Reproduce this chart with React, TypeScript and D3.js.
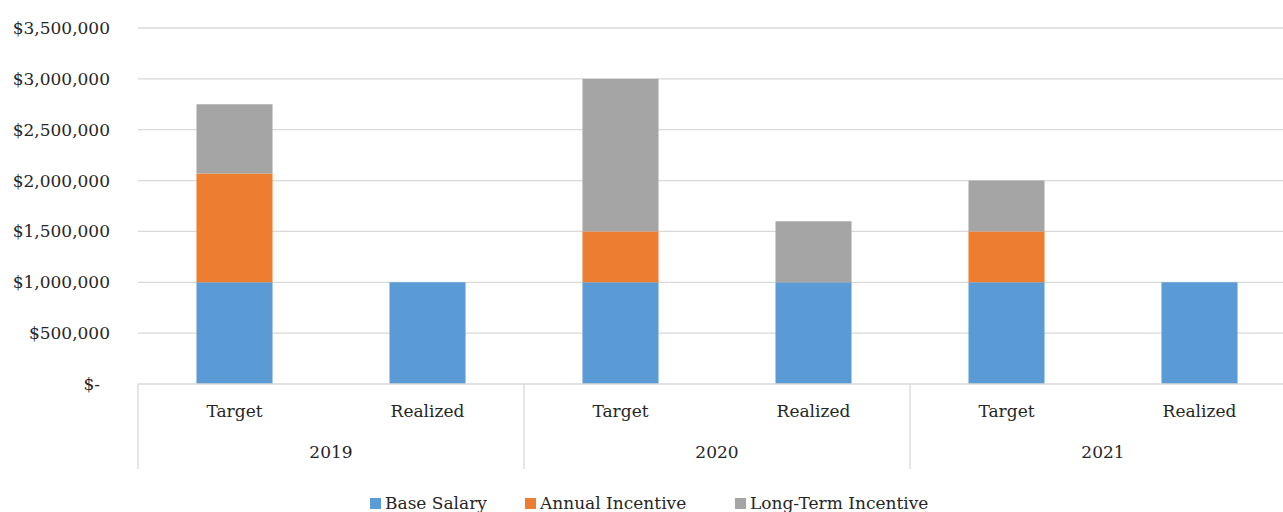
import React, { useEffect, useRef } from 'react';
import * as d3 from 'd3';

const years = ['2019', '2020', '2021'];
const kinds = ['Target', 'Realized'];
const seriesNames = ['Base Salary', 'Annual Incentive', 'Long-Term Incentive'];
const seriesColors = ['#5B9BD5', '#ED7D31', '#A5A5A5'];
// one value per (year, kind): 2019 Target, 2019 Realized, 2020 Target, ...
const baseSalary = [1000000, 1000000, 1000000, 1000000, 1000000, 1000000];
const annualIncentive = [1070000, 0, 500000, 0, 500000, 0];
const longTermIncentive = [680000, 0, 1500000, 600000, 500000, 0];
const yTicks = [0, 500000, 1000000, 1500000, 2000000, 2500000, 3000000, 3500000];

const W = 1283;
const H = 512;
const FONT = '"DejaVu Serif", serif';
const TEXT = '#262626';

export default function App() {
  const ref = useRef<SVGSVGElement>(null);

  useEffect(() => {
    const svg = d3.select(ref.current);
    svg.selectAll('*').remove();

    const x0 = d3.scaleBand().domain(years).range([138, 1296]).padding(0);
    const x1 = d3.scaleBand().domain(kinds).range([0, x0.bandwidth()])
      .paddingInner(0.606).paddingOuter(0.303);
    const y = d3.scaleLinear().domain([0, 3500000]).range([384, 28]);

    // gridlines
    svg.append('g').selectAll('line').data(yTicks.filter(d => d > 0)).join('line')
      .attr('x1', 138).attr('x2', W)
      .attr('y1', d => y(d)).attr('y2', d => y(d))
      .attr('stroke', '#D9D9D9').attr('stroke-width', 1.3);

    // y labels
    const fmt = d3.format(',');
    svg.append('g').selectAll('text').data(yTicks).join('text')
      .attr('x', d => d === 0 ? 100 : 110)
      .attr('y', d => y(d))
      .attr('dy', '0.35em')
      .attr('text-anchor', 'end')
      .attr('font-family', FONT).attr('font-size', 17).attr('fill', TEXT)
      .text(d => d === 0 ? '$-' : '$' + fmt(d));

    // stacked bars
    const rows = years.flatMap((yr, i) => kinds.map((k, j) => {
      const idx = i * 2 + j;
      return { year: yr, kind: k, base: baseSalary[idx], annual: annualIncentive[idx], lti: longTermIncentive[idx] };
    }));
    const stack = d3.stack<any>().keys(['base', 'annual', 'lti']);
    const layers = stack(rows);
    svg.append('g').selectAll('g').data(layers).join('g')
      .attr('fill', (_, i) => seriesColors[i])
      .selectAll('rect').data(d => d.filter(s => s[1] > s[0])).join('rect')
      .attr('x', d => (x0(d.data.year) as number) + (x1(d.data.kind) as number))
      .attr('width', x1.bandwidth())
      .attr('y', d => y(d[1]))
      .attr('height', d => y(d[0]) - y(d[1]));

    // x axis line
    svg.append('line').attr('x1', 138).attr('x2', W).attr('y1', 384).attr('y2', 384)
      .attr('stroke', '#D9D9D9').attr('stroke-width', 1.3);

    // group separators
    const seps = years.map(yr => x0(yr) as number).concat([x0.range()[1]]);
    svg.append('g').selectAll('line').data(seps).join('line')
      .attr('x1', d => d).attr('x2', d => d).attr('y1', 384).attr('y2', 469)
      .attr('stroke', '#D9D9D9').attr('stroke-width', 1.3);

    // inner category labels
    svg.append('g').selectAll('text').data(rows).join('text')
      .attr('x', d => (x0(d.year) as number) + (x1(d.kind) as number) + x1.bandwidth() / 2)
      .attr('y', 411).attr('dy', '0.35em').attr('text-anchor', 'middle')
      .attr('font-family', FONT).attr('font-size', 17).attr('fill', TEXT)
      .text(d => d.kind);

    // year labels
    svg.append('g').selectAll('text').data(years).join('text')
      .attr('x', d => (x0(d) as number) + x0.bandwidth() / 2)
      .attr('y', 452).attr('dy', '0.35em').attr('text-anchor', 'middle')
      .attr('font-family', FONT).attr('font-size', 17).attr('fill', TEXT)
      .text(d => d);

    // legend
    const legendX = [370, 525, 735];
    const lg = svg.append('g').selectAll('g').data(seriesNames).join('g')
      .attr('transform', (_, i) => `translate(${legendX[i]},503)`);
    lg.append('rect').attr('x', 0).attr('y', -5).attr('width', 11).attr('height', 11)
      .attr('fill', (_, i) => seriesColors[i]);
    lg.append('text').attr('x', 15).attr('dy', '0.35em')
      .attr('font-family', FONT).attr('font-size', 17).attr('fill', TEXT)
      .text(d => d);
  }, []);

  return (
    <svg ref={ref} width={W} height={H}
      style={{ position: 'absolute', left: 0, top: 0, background: '#fff' }} />
  );
}
